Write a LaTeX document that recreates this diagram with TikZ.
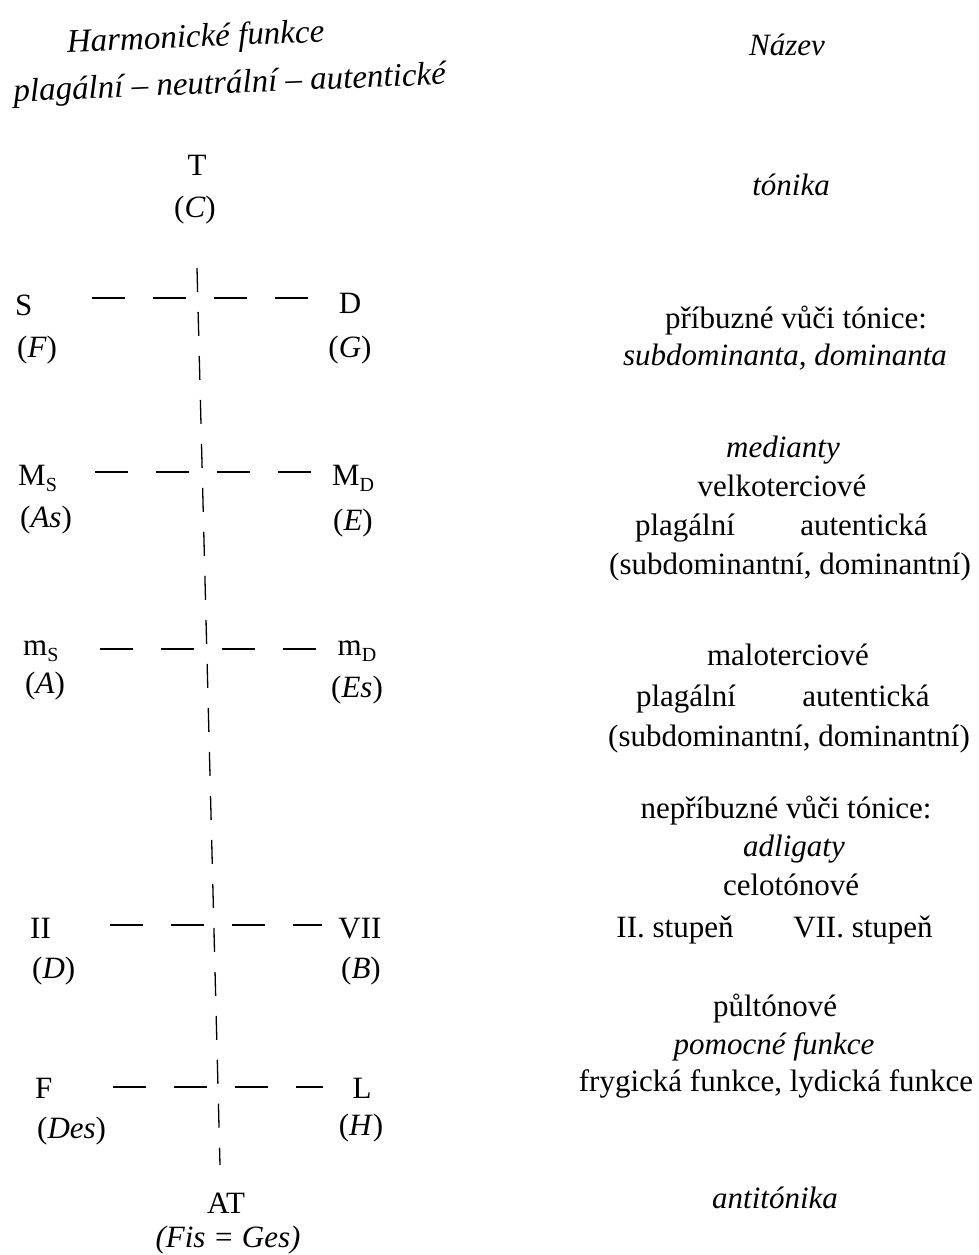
\documentclass[tikz,border=0pt]{standalone}
\usepackage{fontspec}
\setmainfont{Liberation Serif}
\newcommand{\lowsub}[1]{\raisebox{-6.5pt}{\fontsize{20}{20}\selectfont #1}}
\begin{document}
\begin{tikzpicture}[x=1pt,y=-1pt,
  lbl/.style={inner sep=0pt, font=\fontsize{31}{38}\selectfont},
  lft/.style={lbl, anchor=base west},
  ctr/.style={lbl, anchor=base},
  ital/.style={inner sep=0pt, anchor=base, font=\fontsize{31}{38}\selectfont\itshape},
  ttl/.style={inner sep=0pt, anchor=base, font=\fontsize{33}{40}\selectfont\itshape, rotate=2.3},
  hdash/.style={line width=1.3pt, dash pattern=on 33pt off 28pt},
  vdash/.style={line width=1.3pt, dash pattern=on 24pt off 20pt}]
\useasboundingbox[fill=white] (0,0) rectangle (979,1255);

% titles
\node[ttl] (h1) at (196,47) {Harmonické funkce};
\node[ttl] (h2) at (230,93) {plagální – neutrální – autentické};
\node[ital] (nazev) at (787,56) {Název};

% left diagram labels
\node[ctr] (T) at (197,175) {T};
\node[ctr] (Tn) at (195,217) {(\textit{C})};
\node[lft] (S) at (15,315) {S};
\node[lft] (Sn) at (17,357) {(\textit{F})};
\node[ctr] (D) at (350,313) {D};
\node[ctr] (Dn) at (350,357) {(\textit{G})};
\node[lft] (MS) at (18,485) {M\lowsub{S}};
\node[lft] (MSn) at (20,527) {(\textit{As})};
\node[ctr] (MD) at (353,485) {M\lowsub{D}};
\node[ctr] (MDn) at (353,530) {(\textit{E})};
\node[lft] (mS) at (23,655) {m\lowsub{S}};
\node[lft] (mSn) at (25,693) {(\textit{A})};
\node[ctr] (mD) at (357,655) {m\lowsub{D}};
\node[ctr] (mDn) at (357,697) {(\textit{Es})};
\node[lft] (II) at (30,938) {II};
\node[lft] (IIn) at (32,978) {(\textit{D})};
\node[ctr] (VII) at (360,938) {VII};
\node[ctr] (VIIn) at (361,978) {(\textit{B})};
\node[lft] (Fr) at (35,1098) {F};
\node[lft] (Frn) at (37,1138) {(\textit{Des})};
\node[ctr] (Ly) at (362,1098) {L};
\node[ctr] (Lyn) at (361,1135) {(\textit{H})};
\node[ctr] (AT) at (226,1213) {AT};
\node[ital] (ATn) at (228,1247) {(Fis = Ges)};

% dashed lines
\coordinate (vt) at (197,268);
\coordinate (vb) at (220,1165);
\draw[vdash] (vt) -- (vb);
\coordinate (a1) at (92,298);  \coordinate (a2) at (308,298);
\coordinate (b1) at (95,472);  \coordinate (b2) at (313,472);
\coordinate (c1) at (100,649); \coordinate (c2) at (317,649);
\coordinate (d1) at (110,925); \coordinate (d2) at (322,925);
\coordinate (e1) at (113,1087);\coordinate (e2) at (323,1087);
\draw[hdash] (a1) -- (a2);
\draw[hdash] (b1) -- (b2);
\draw[hdash] (c1) -- (c2);
\draw[hdash] (d1) -- (d2);
\draw[hdash] (e1) -- (e2);

% right column
\node[ital] (r0) at (791,195) {tónika};
\node[ctr] (r1) at (796,328) {příbuzné vůči tónice:};
\node[ital] (r2) at (785,365) {subdominanta, dominanta};
\node[ital] (r3) at (783,457) {medianty};
\node[ctr] (r4) at (782,496) {velkoterciové};
\node[ctr] (r5a) at (685,535) {plagální};
\node[ctr] (r5b) at (864,535) {autentická};
\node[ctr] (r6) at (790,574) {(subdominantní, dominantní)};
\node[ctr] (r7) at (788,665) {maloterciové};
\node[ctr] (r8a) at (686,706) {plagální};
\node[ctr] (r8b) at (866,706) {autentická};
\node[ctr] (r9) at (789,746) {(subdominantní, dominantní)};
\node[ctr] (r10) at (786,818) {nepříbuzné vůči tónice:};
\node[ital] (r11) at (794,856) {adligaty};
\node[ctr] (r12) at (791,895) {celotónové};
\node[ctr] (r13a) at (675,937) {II. stupeň};
\node[ctr] (r13b) at (863,937) {VII. stupeň};
\node[ctr] (r14) at (775,1016) {půltónové};
\node[ital] (r15) at (774,1054) {pomocné funkce};
\node[ctr] (r16) at (776,1091) {frygická funkce, lydická funkce};
\node[ital] (r17) at (775,1208) {antitónika};
\end{tikzpicture}
\end{document}
